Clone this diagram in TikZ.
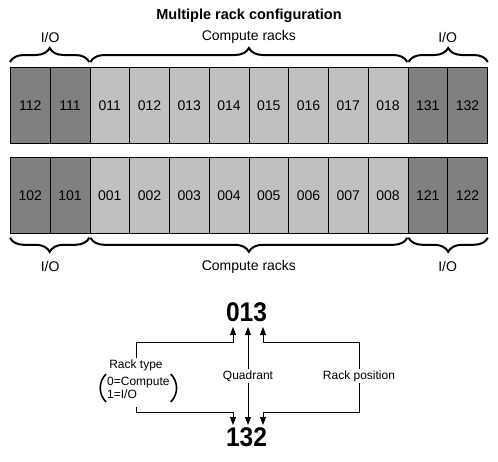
\documentclass[tikz,border=0pt]{standalone}
\usepackage{fontspec}
\setmainfont{Liberation Sans}
\usetikzlibrary{decorations.pathreplacing,arrows.meta,calc}
\definecolor{iodark}{RGB}{128,128,128}
\definecolor{comp}{RGB}{192,192,192}
\begin{document}
\begin{tikzpicture}[x=1pt,y=-1pt,
  rack/.style={draw=black,line width=0.8pt,minimum width=39.75pt,minimum height=76pt,
    anchor=north west,inner sep=0pt,font=\fontsize{14}{16}\selectfont},
  brc/.style={decorate,decoration={brace,amplitude=14pt},line width=2pt},
  lbl/.style={font=\fontsize{14}{16}\selectfont},
  small/.style={font=\fontsize{12}{13}\selectfont,fill=white,inner sep=1pt},
  big/.style={font=\bfseries\fontsize{27}{30}\selectfont,inner sep=0pt},
  arr/.style={-{Triangle[length=8pt,width=6pt]},line width=0.8pt},
  paren/.style={line width=1.6pt}
]
\useasboundingbox[fill=white] (0,0) rectangle (498,461);

\node[font=\bfseries\fontsize{14.5}{16}\selectfont] (title) at (249,16) {Multiple rack configuration};

% top row
\foreach \i/\lab/\col in {0/112/iodark,1/111/iodark,2/011/comp,3/012/comp,4/013/comp,5/014/comp,
  6/015/comp,7/016/comp,8/017/comp,9/018/comp,10/131/iodark,11/132/iodark}
  \node[rack,fill=\col] (top\i) at ({10+\i*39.75},67) {\lab};
% bottom row
\foreach \i/\lab/\col in {0/102/iodark,1/101/iodark,2/001/comp,3/002/comp,4/003/comp,5/004/comp,
  6/005/comp,7/006/comp,8/007/comp,9/008/comp,10/121/iodark,11/122/iodark}
  \node[rack,fill=\col] (bot\i) at ({10+\i*39.75},157) {\lab};

% top braces
\draw[brc] ([yshift=5pt]top0.north west) -- ([xshift=-1pt,yshift=5pt]top1.north east);
\draw[brc] ([xshift=1pt,yshift=5pt]top2.north west) -- ([xshift=-1pt,yshift=5pt]top9.north east);
\draw[brc] ([xshift=1pt,yshift=5pt]top10.north west) -- ([yshift=5pt]top11.north east);
\node[lbl] (tio1) at ($(top0.north west)!0.5!(top1.north east)+(0,-30)$) {I/O};
\node[lbl] (tcomp) at ($(top2.north west)!0.5!(top9.north east)+(0,-30)$) {Compute racks};
\node[lbl] (tio2) at ($(top10.north west)!0.5!(top11.north east)+(0,-30)$) {I/O};

% bottom braces
\draw[brc] ([xshift=-1pt,yshift=-4pt]bot1.south east) -- ([yshift=-4pt]bot0.south west);
\draw[brc] ([xshift=-1pt,yshift=-4pt]bot9.south east) -- ([xshift=1pt,yshift=-4pt]bot2.south west);
\draw[brc] ([yshift=-4pt]bot11.south east) -- ([xshift=1pt,yshift=-4pt]bot10.south west);
\node[lbl] (bio1) at ($(bot0.south west)!0.5!(bot1.south east)+(0,33)$) {I/O};
\node[lbl] (bcomp) at ($(bot2.south west)!0.5!(bot9.south east)+(0,33)$) {Compute racks};
\node[lbl] (bio2) at ($(bot10.south west)!0.5!(bot11.south east)+(0,33)$) {I/O};

% legend
\node[big] (n013) at (246.5,312.5) {\scalebox{0.91}[1]{013}};
\node[big] (n132) at (246.5,437) {\scalebox{0.91}[1]{132}};
\coordinate (t0) at (233,327);
\coordinate (t1) at (248,327);
\coordinate (t2) at (263,327);
\coordinate (b0) at (233,425);
\coordinate (b1) at (248,425);
\coordinate (b2) at (263,425);
\coordinate (h0) at (233,342);
\coordinate (h2) at (263,342);
\coordinate (g0) at (233,412);
\coordinate (g2) at (263,412);

\node[small] (rtype) at (136,365) {Rack type};
\node[font=\fontsize{12}{13}\selectfont,align=left,inner xsep=4pt,inner ysep=3pt,anchor=west]
  (rvals) at (103,388) {0=Compute\\1=I/O};
\draw[paren] ([xshift=3pt]rvals.north west) to[bend right=45] ([xshift=3pt]rvals.south west);
\draw[paren] ([xshift=-3pt]rvals.north east) to[bend left=45] ([xshift=-3pt]rvals.south east);
\node[small] (quad) at (248,376) {Quadrant};
\node[small] (rpos) at (359,376) {Rack position};

\draw[arr] (rtype.north) |- (h0) -- (t0);
\draw[arr] ([yshift=-5pt]rtype.north |- rvals.south) |- (g0) -- (b0);
\draw[arr] (quad) -- (t1);
\draw[arr] (quad) -- (b1);
\draw[arr] (rpos.north) |- (h2) -- (t2);
\draw[arr] (rpos.south) |- (g2) -- (b2);
\end{tikzpicture}
\end{document}
